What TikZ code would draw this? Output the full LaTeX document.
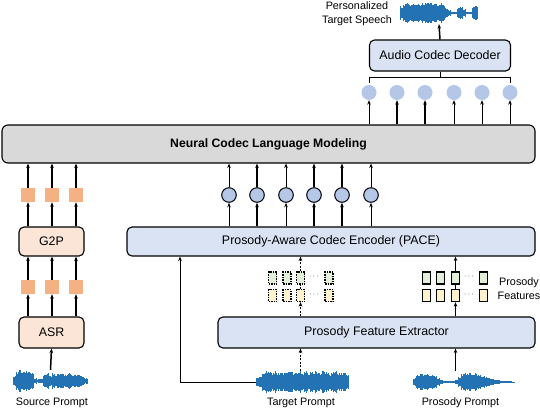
\documentclass[tikz,border=0pt]{standalone}
\usepackage{fontspec}
\setmainfont{Liberation Sans}
\usetikzlibrary{arrows.meta,calc}
\definecolor{lmgray}{HTML}{D9D9D9}
\definecolor{bfill}{HTML}{DAE3F3}
\definecolor{ofill}{HTML}{FBE5D6}
\definecolor{sqor}{HTML}{F4B183}
\definecolor{cblue}{HTML}{B4C7E7}
\definecolor{fgreen}{HTML}{E2F0D9}
\definecolor{fyellow}{HTML}{FFF2CC}
\definecolor{wavec}{HTML}{2272B4}
\newcommand\drawwave[3]{%
  \foreach \a [count=\i] in {#3} {%
    \foreach \k in {0,1,2} {%
      \pgfmathsetmacro\wvh{\a*(0.72+0.3*rnd)}%
      \fill[wavec] ({#1+3*(\i-1)+\k},{#2-\wvh}) rectangle ({#1+3*(\i-1)+\k+1.2},{#2+\wvh});
    }}}
\begin{document}
\begin{tikzpicture}[x=1pt,y=-1pt,
  box/.style={draw,line width=1.1pt,rounded corners=5pt,inner sep=0pt,font=\fontsize{12.4}{14}\selectfont},
  arr/.style={-{Stealth[length=4.5pt,width=3.6pt]},line width=0.8pt},
  arrb/.style={-{Stealth[length=4.5pt,width=3.6pt]},line width=1.5pt},
  sq/.style={fill=sqor,minimum size=14pt,inner sep=0pt},
  cir/.style={circle,fill=cblue,draw,line width=1pt,minimum size=14.6pt,inner sep=0pt},
  tcir/.style={circle,fill=cblue,minimum size=15pt,inner sep=0pt},
  fbx/.style={minimum width=8pt,minimum height=12pt,inner sep=0pt},
  fsolid/.style={fbx,draw,line width=1.3pt},
  fdash/.style={fbx,draw,line width=1.2pt,dash pattern=on 1.5pt off 1pt},
  lab/.style={font=\fontsize{10.8}{14}\selectfont,align=center,inner sep=0pt},
  dots/.style={font=\fontsize{8}{8}\selectfont,inner sep=0pt},
  wavebox/.style={inner sep=0pt,minimum height=22pt}]
\useasboundingbox (0,0) rectangle (540,408);
\pgfmathsetseed{7}

% main boxes
\node[box,fill=lmgray,rounded corners=6pt,minimum width=533pt,minimum height=38pt,font=\fontsize{12.2}{14}\selectfont\bfseries] (lm) at (268.5,144) {Neural Codec Language Modeling};
\node[box,fill=bfill,minimum width=141pt,minimum height=31pt] (dec) at (440,55.5) {Audio Codec Decoder};
\node[box,fill=bfill,minimum width=408pt,minimum height=29pt] (pace) at (331,241.5) {Prosody-Aware Codec Encoder (PACE)};
\node[box,fill=bfill,minimum width=317pt,minimum height=31pt] (pfe) at (376.5,332.5) {Prosody Feature Extractor};
\node[box,fill=ofill,minimum width=65pt,minimum height=29pt] (g2p) at (51.5,241.5) {G2P};
\node[box,fill=ofill,minimum width=65pt,minimum height=31pt] (asr) at (51.5,332.5) {ASR};

% waveforms
\node[wavebox,minimum width=78pt] (out) at (439,13) {};
\drawwave{400}{13}{7,9,10,9,10,11,10,10,10,11,10,9,9,10,8,5,3,1,0.8,5,6,4,1,0.8,7.5,7.5}
\node[wavebox,minimum width=75pt] (src) at (50.5,381) {};
\drawwave{13}{381}{5,9,11,11,11,10,8,3,2,3,7,8,6,8,7,8,8,7,8,7,7,6,6,4,3}
\node[wavebox,minimum width=93pt] (tgt) at (302.5,382) {};
\drawwave{256}{382}{4,7,10,11,11,10,11,9,11,10,11,11,10,9,11,10,11,9,10,11,10,9,11,10,9,10,11,10,9,10,8}
\node[wavebox,minimum width=102pt] (pro) at (464,382) {};
\drawwave{413}{382}{4,7,8,8,8,7,7,6,4,2,1,0.8,0.8,1,2,5,8,9,9,9,9,8,7,6,5,4,3,2.5,2,1.5,1,0.7,0.6,0.5}

% labels
\node[lab] (lout) at (357,13.5) {Personalized\\Target Speech};
\node[lab] (lsrc) at (52,403) {Source Prompt};
\node[lab] (ltgt) at (301,403) {Target Prompt};
\node[lab] (lpro) at (460.5,403) {Prosody Prompt};
\node[lab] (lfeat) at (519,288.5) {Prosody\\Features};

% top circles
\foreach \x [count=\i] in {369,397,425,454,482,510}
  \node[tcir] (tc\i) at (\x,92.5) {};
% encoder circles
\foreach \x [count=\i] in {229,257,286,314,342,371}
  \node[cir] (ec\i) at (\x,195) {};
% orange squares
\foreach \x [count=\i] in {28,52,76} {
  \node[sq] (su\i) at (\x,195) {};
  \node[sq] (sl\i) at (\x,287) {};
}
% feature boxes
\foreach \x [count=\i] in {272.5,287,300.5,329} {
  \node[fdash,fill=fgreen] (lg\i) at (\x,278) {};
  \node[fdash,fill=fyellow] (ly\i) at (\x,295.5) {};
}
\foreach \x [count=\i] in {426.5,440.5,455.5,483.5} {
  \node[fsolid,fill=fgreen] (rg\i) at (\x,278) {};
  \node[fsolid,fill=fyellow] (ry\i) at (\x,295.5) {};
}
\node[dots] (ld1) at (314,277) {$\cdots$};
\node[dots] (ld2) at (314,294.5) {$\cdots$};
\node[dots] (rd1) at (469,277) {$\cdots$};
\node[dots] (rd2) at (469,294.5) {$\cdots$};

% decoder connections
\draw[arrb] (dec.north) -- (out.south);
\coordinate (bk) at (440,77.5);
\draw[line width=0.8pt] (dec.south) -- (bk);
\draw[line width=0.8pt] ($(tc1.north)+(0,-2)$) -- (tc1.north |- bk) -- (tc6.north |- bk) -- ($(tc6.north)+(0,-2)$);
\foreach \i/\s in {1/arr,2/arrb,3/arrb,4/arr,5/arr,6/arr}
  \draw[\s] (tc\i |- lm.north) -- (tc\i.south);

% encoder circles
\foreach \i/\s in {1/arr,2/arrb,3/arr,4/arrb,5/arrb,6/arr} {
  \draw[\s] (ec\i |- pace.north) -- (ec\i.south);
  \draw[\s] (ec\i.north) -- (ec\i |- lm.south);
}

% left column
\foreach \i in {1,2,3} {
  \draw[arrb] (su\i.north) -- (su\i |- lm.south);
  \draw[arrb] (su\i |- g2p.north) -- (su\i.south);
  \draw[arrb] (sl\i.north) -- (sl\i |- g2p.south);
  \draw[arrb] (sl\i |- asr.north) -- (sl\i.south);
}
\draw[arrb] (src.north) -- (asr.south);

% prosody features
\draw[arr,dash pattern=on 2pt off 1.5pt,line width=1pt] (ly3 |- pfe.north) -- (ly3.south);
\draw[dash pattern=on 2pt off 1.5pt,line width=1pt] (ly3.north) -- (lg3.south);
\draw[arr,dash pattern=on 2pt off 1.5pt,line width=1pt] (lg3.north) -- (lg3 |- pace.south);
\draw[arrb] (ry3 |- pfe.north) -- (ry3.south);
\draw[line width=1.5pt] (ry3.north) -- (rg3.south);
\draw[arrb] (rg3.north) -- (rg3 |- pace.south);

% prompts
\draw[arr,dash pattern=on 2pt off 1.5pt,line width=1pt] (lg3 |- tgt.north) -- (lg3 |- pfe.south);
\draw[arrb] (ry3 |- pro.north) -- (ry3 |- pfe.south);
\draw[arr] (tgt.west) -| ([xshift=53.5pt]pace.south west);
\end{tikzpicture}
\end{document}
